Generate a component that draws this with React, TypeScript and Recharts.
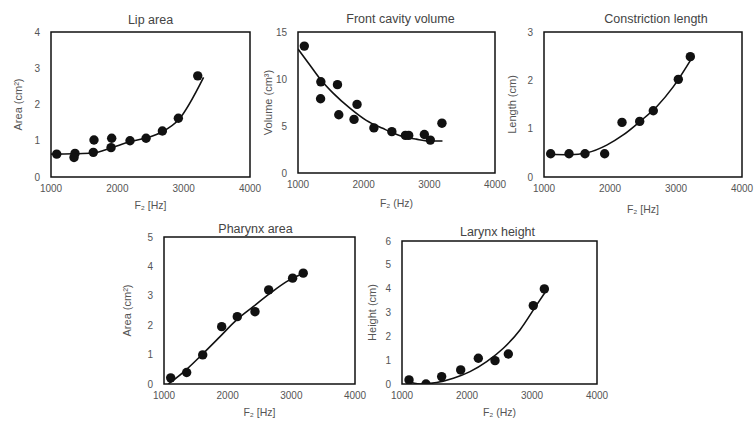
// Five scatter panels with fitted trend curves (Recharts ComposedChart)
import React from "react";
import {
  ComposedChart,
  Scatter,
  Line,
  XAxis,
  YAxis,
  ReferenceArea,
} from "recharts";

const xTicks = [1000, 2000, 3000, 4000];

// Lip area
const lipF = [1086, 1362, 1347, 1638, 1648, 1915, 1905, 2191, 2433, 2679, 2920, 3212];
const lipArea = [0.63, 0.65, 0.54, 0.68, 1.02, 1.07, 0.81, 1.0, 1.07, 1.27, 1.62, 2.79];
const lipFitF = [1000, 1340, 1640, 1905, 2190, 2440, 2680, 2920, 3300];
const lipFitArea = [0.63, 0.64, 0.66, 0.8, 0.97, 1.08, 1.25, 1.57, 2.75];
const lipTicks = [0, 1, 2, 3, 4];

// Front cavity volume
const fcvF = [1096, 1348, 1344, 1601, 1621, 1899, 1853, 2156, 2429, 2636, 2686, 2924, 3015, 3192];
const fcvVol = [13.5, 9.7, 7.9, 9.4, 6.2, 7.3, 5.7, 4.8, 4.4, 4.0, 4.0, 4.1, 3.5, 5.3];
const fcvFitF = [1000, 1180, 1350, 1535, 1790, 2040, 2290, 2545, 2800, 3000, 3200];
const fcvFitVol = [13.2, 11.5, 9.9, 8.5, 6.9, 5.6, 4.75, 4.0, 3.6, 3.4, 3.4];
const fcvTicks = [0, 5, 10, 15];

// Constriction length
const clF = [1101, 1379, 1621, 1919, 2182, 2450, 2656, 3035, 3217];
const clLen = [0.48, 0.48, 0.48, 0.48, 1.13, 1.15, 1.37, 2.02, 2.49];
const clFitF = [1056, 1390, 1650, 1950, 2200, 2455, 2710, 2960, 3240];
const clFitLen = [0.47, 0.46, 0.5, 0.66, 0.87, 1.15, 1.46, 1.87, 2.46];
const clTicks = [0, 1, 2, 3];

// Pharynx area
const paF = [1105, 1356, 1608, 1906, 2151, 2429, 2644, 3020, 3187];
const paArea = [0.21, 0.39, 0.99, 1.95, 2.29, 2.46, 3.2, 3.6, 3.77];
const paFitF = [1070, 1356, 1617, 1880, 2140, 2400, 2665, 2925, 3240];
const paFitArea = [0, 0.5, 1.04, 1.61, 2.18, 2.63, 3.08, 3.48, 3.82];
const paTicks = [0, 1, 2, 3, 4, 5];

// Larynx height
const lhF = [1108, 1369, 1610, 1903, 2174, 2431, 2636, 3020, 3190];
const lhHeight = [0.17, 0, 0.31, 0.59, 1.08, 0.98, 1.26, 3.29, 3.99];
const lhFitF = [1072, 1277, 1533, 1790, 2046, 2303, 2559, 2815, 3072, 3200];
const lhFitHeight = [0.14, 0, 0.06, 0.24, 0.52, 0.94, 1.5, 2.27, 3.32, 3.84];
const lhTicks = [0, 1, 2, 3, 4, 5, 6];

const zip = (fs: number[], vs: number[]) => fs.map((f, i) => ({ f, v: vs[i] }));

const TEXT = "#555";
const INK = "#111";

type PanelProps = {
  title: string;
  yLabel: string;
  xLabel: string;
  box: [number, number, number, number]; // page coords of plot frame
  yTicks: number[];
  points: { f: number; v: number }[];
  fit: { f: number; v: number }[];
  titleOffset: number;
  titleDx: number;
  yLabelOffset: number;
  xLabelOffset: number;
};

const Dot = (p: any) => <circle cx={p.cx} cy={p.cy} r={4.7} fill={INK} />;

function Panel(props: PanelProps) {
  const [x1, y1, x2, y2] = props.box;
  const w = x2 - x1 + 62;
  const h = y2 - y1 + 78;
  const yMax = props.yTicks[props.yTicks.length - 1];
  return (
    <div style={{ position: "absolute", left: x1 - 50, top: y1 - 30 }}>
      <ComposedChart
        width={w}
        height={h}
        margin={{ top: 30, right: 12, bottom: 0, left: 5 }}
        style={{ fontFamily: "Liberation Sans, Arial, sans-serif" }}
      >
        <XAxis
          type="number"
          dataKey="f"
          domain={[1000, 4000]}
          ticks={xTicks}
          interval={0}
          allowDataOverflow
          axisLine={false}
          tickLine={false}
          tickMargin={2}
          height={48}
          tick={{ fontSize: 10, fill: TEXT }}
          label={{
            value: props.xLabel,
            position: "insideBottom",
            offset: props.xLabelOffset + 12,
            style: { fontSize: 10.5, fill: TEXT },
          }}
        />
        <YAxis
          type="number"
          dataKey="v"
          domain={[0, yMax]}
          ticks={props.yTicks}
          interval={0}
          allowDataOverflow
          axisLine={false}
          tickLine={false}
          tickMargin={5}
          width={45}
          tick={{ fontSize: 10, fill: TEXT }}
          label={{
            value: props.yLabel,
            angle: -90,
            position: "insideLeft",
            offset: props.yLabelOffset,
            style: { fontSize: 11, fill: TEXT, textAnchor: "middle" },
          }}
        />
        <ReferenceArea
          x1={1000}
          x2={4000}
          y1={0}
          y2={yMax}
          fill="none"
          stroke={INK}
          strokeWidth={1.5}
          label={{
            value: props.title,
            position: "top",
            offset: props.titleOffset,
            dx: props.titleDx,
            style: { fontSize: 12.5, fill: "#444" },
          }}
        />
        <Line
          data={props.fit}
          dataKey="v"
          type="monotone"
          stroke={INK}
          strokeWidth={1.6}
          dot={false}
          isAnimationActive={false}
        />
        <Scatter
          data={props.points}
          dataKey="v"
          shape={Dot}
          isAnimationActive={false}
        />
      </ComposedChart>
    </div>
  );
}

export default function App() {
  return (
    <div
      style={{
        position: "fixed",
        left: 0,
        top: 0,
        width: 754,
        height: 425,
        background: "#fff",
        overflow: "hidden",
      }}
    >
      <Panel
        title="Lip area"
        yLabel="Area (cm²)"
        xLabel="F₂ [Hz]"
        box={[51, 32, 250, 177]}
        yTicks={lipTicks}
        points={zip(lipF, lipArea)}
        fit={zip(lipFitF, lipFitArea)}
        titleOffset={8}
        titleDx={0}
        yLabelOffset={12}
        xLabelOffset={4}
      />
      <Panel
        title="Front cavity volume"
        yLabel="Volume (cm³)"
        xLabel="F₂ (Hz)"
        box={[298, 32, 495, 173]}
        yTicks={fcvTicks}
        points={zip(fcvF, fcvVol)}
        fit={zip(fcvFitF, fcvFitVol)}
        titleOffset={9}
        titleDx={4}
        yLabelOffset={15}
        xLabelOffset={2}
      />
      <Panel
        title="Constriction length"
        yLabel="Length (cm)"
        xLabel="F₂ [Hz]"
        box={[544, 32, 742, 177]}
        yTicks={clTicks}
        points={zip(clF, clLen)}
        fit={zip(clFitF, clFitLen)}
        titleOffset={9}
        titleDx={13}
        yLabelOffset={13}
        xLabelOffset={0}
      />
      <Panel
        title="Pharynx area"
        yLabel="Area (cm²)"
        xLabel="F₂ [Hz]"
        box={[164, 237, 355, 384]}
        yTicks={paTicks}
        points={zip(paF, paArea)}
        fit={zip(paFitF, paFitArea)}
        titleOffset={4}
        titleDx={-4}
        yLabelOffset={8}
        xLabelOffset={4}
      />
      <Panel
        title="Larynx height"
        yLabel="Height (cm)"
        xLabel="F₂ (Hz)"
        box={[402, 241, 597, 384]}
        yTicks={lhTicks}
        points={zip(lhF, lhHeight)}
        fit={zip(lhFitF, lhFitHeight)}
        titleOffset={5}
        titleDx={-2}
        yLabelOffset={15}
        xLabelOffset={4}
      />
    </div>
  );
}
